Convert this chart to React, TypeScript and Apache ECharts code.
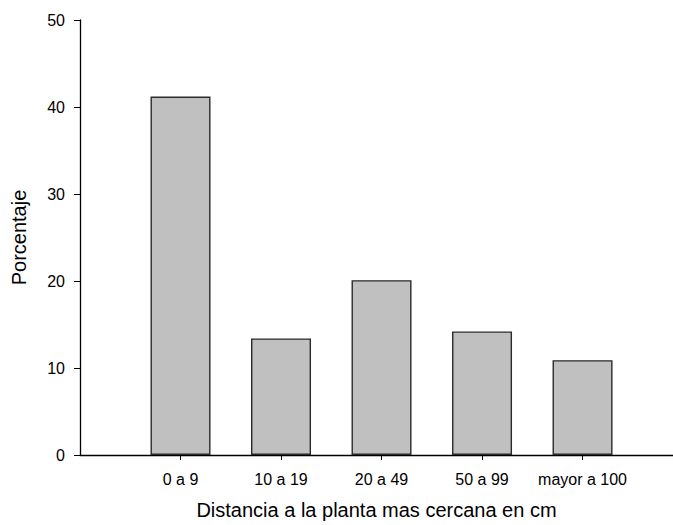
import React, { useEffect, useRef } from "react";
import * as echarts from "echarts";

const categories = ["0 a 9", "10 a 19", "20 a 49", "50 a 99", "mayor a 100"];
const percentages = [41.2, 13.4, 20.1, 14.2, 10.9];
const yTicks = [0, 10, 20, 30, 40, 50];

export default function App() {
  const ref = useRef<HTMLDivElement>(null);
  useEffect(() => {
    if (!ref.current) return;
    const chart = echarts.init(ref.current, null, { renderer: "svg" });
    const font = "'Liberation Sans', Arial, sans-serif";
    chart.setOption({
      animation: false,
      backgroundColor: "#ffffff",
      grid: {
        left: 80,
        right: 0,
        top: 20,
        bottom: 70,
        containLabel: false,
        outerBoundsMode: "none",
      },
      xAxis: {
        type: "value",
        min: 0,
        max: 5.9,
        interval: 1,
        splitLine: { show: false },
        axisLine: { show: true, onZero: false, lineStyle: { color: "#000", width: 1.3 } },
        axisTick: {
          show: true,
          length: 5,
          lineStyle: { color: "#000" },
          customValues: categories.map((_, i) => i + 1),
        },
        axisLabel: {
          show: true,
          customValues: categories.map((_, i) => i + 1),
          formatter: (v: number) => categories[Math.round(v) - 1] ?? "",
          color: "#000",
          fontFamily: font,
          fontSize: 16,
          margin: 16,
        },
        name: "Distancia a la planta mas cercana en cm",
        nameLocation: "middle",
        nameGap: 45,
        nameTextStyle: { color: "#000", fontFamily: font, fontSize: 20 },
      },
      yAxis: {
        type: "value",
        min: 0,
        max: 50,
        interval: 10,
        splitLine: { show: false },
        axisLine: { show: true, lineStyle: { color: "#000", width: 1.3 } },
        axisTick: { show: true, length: 6, lineStyle: { color: "#000" } },
        axisLabel: {
          color: "#000",
          fontFamily: font,
          fontSize: 16,
          margin: 15,
          formatter: (v: number) => (yTicks.includes(v) ? String(v) : ""),
        },
        name: "Porcentaje",
        nameLocation: "middle",
        nameGap: 51,
        nameTextStyle: { color: "#000", fontFamily: font, fontSize: 20 },
      },
      series: [
        {
          type: "bar",
          data: percentages.map((v, i) => [i + 1, v]),
          barWidth: 60,
          itemStyle: { color: "#c0c0c0", borderColor: "#2a2a2a", borderWidth: 1.4 },
        },
      ],
    });
    return () => chart.dispose();
  }, []);
  return (
    <div
      ref={ref}
      style={{ position: "absolute", left: 0, top: 0, width: 673, height: 525 }}
    />
  );
}
